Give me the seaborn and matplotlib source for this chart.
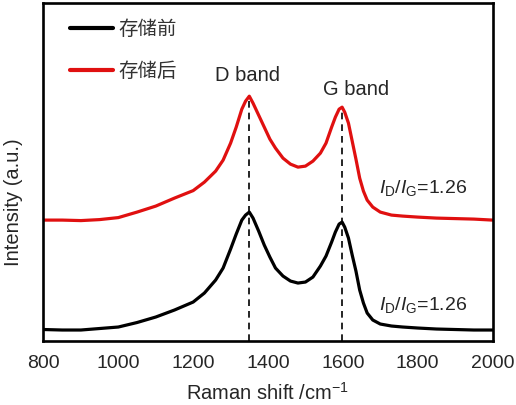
import numpy as np
import pandas as pd
import matplotlib
matplotlib.use("Agg")
import matplotlib.pyplot as plt
import seaborn as sns

# ---- data (arbitrary intensity units) ----
shift = [800, 850, 900, 950, 1000, 1050, 1100, 1150, 1200, 1230, 1260, 1280, 1300,
         1315, 1330, 1340, 1350, 1360, 1375, 1390, 1405, 1420, 1440, 1460, 1480,
         1500, 1520, 1540, 1555, 1570, 1580, 1590, 1598, 1605, 1615, 1625, 1635,
         1645, 1655, 1665, 1680, 1700, 1730, 1760, 1800, 1850, 1900, 1950, 2000]

before = [11.5, 11, 11, 12.5, 14, 18.5, 24, 31, 39, 48, 61, 73, 92,
          107, 121, 126, 129, 123, 110, 96, 84, 73, 65, 60, 58,
          59, 64, 75, 85, 99, 109, 117, 119, 114, 103, 86, 70,
          51, 38, 28, 21, 17, 15, 14, 13, 12, 11.5, 11, 11]

after = [121, 121, 120.5, 121.5, 123.5, 129, 135, 143, 150.5, 159, 170, 181, 198,
         214, 232, 240, 245, 238, 226, 214, 202, 193, 183, 177, 174,
         175, 180, 188, 198, 214, 224, 232, 234, 229, 218, 200, 182,
         163, 150, 141, 134, 129, 126, 125, 124, 123, 122.5, 122, 121]

labels = ['存储前', '存储后']
band_pos = [1350, 1597]
band_top = [245, 234]
band_names = ['D band', 'G band']
ratio_text = ['1.26', '1.26']

sns.set_theme(style='white')
plt.rcParams['font.family'] = ['Liberation Sans', 'Noto Sans CJK SC']
plt.rcParams['mathtext.fontset'] = 'custom'
plt.rcParams['mathtext.rm'] = 'Liberation Sans'
plt.rcParams['mathtext.it'] = 'Liberation Sans:italic'

df = pd.DataFrame({'shift': shift, 'before': before, 'after': after})

fig = plt.figure(figsize=(5.16, 4.05), dpi=100)
ax = fig.add_axes([0.0843, 0.158, 0.8702, 0.834])

sns.lineplot(data=df, x='shift', y='before', color='black', lw=2.3,
             label=labels[0], ax=ax)
sns.lineplot(data=df, x='shift', y='after', color='#e01010', lw=2.3,
             label=labels[1], ax=ax)

# dashed marker lines at peak positions
for pos, top in zip(band_pos, band_top):
    ax.plot([pos, pos], [0, top], color='black', ls=(0, (4, 3)), lw=1.2, zorder=1)

ax.text(1345, 266, band_names[0], fontsize=14.5, ha='center', va='center')
ax.text(1635, 252, band_names[1], fontsize=14.5, ha='center', va='center')

ratio_fmt = r'$\mathit{I}_{\mathrm{D}}/\mathit{I}_{\mathrm{G}}$='
ax.text(1696, 153, ratio_fmt + ratio_text[1], fontsize=14, va='center')
ax.text(1696, 36, ratio_fmt + ratio_text[0], fontsize=14, va='center')

ax.set_xlim(800, 2000)
ax.set_ylim(0, 338)
ax.set_xticks(np.arange(800, 2001, 200))
ax.set_yticks([])
ax.tick_params(axis='x', direction='in', length=5, width=1.5, labelsize=14, pad=10)
ax.set_xlabel(r'Raman shift /cm$^{-1}$', fontsize=14.5, labelpad=7)
ax.set_ylabel('Intensity (a.u.)', fontsize=14.5)
ax.yaxis.set_label_coords(-0.046, 0.41)

for sp in ax.spines.values():
    sp.set_linewidth(1.9)
    sp.set_color('black')

leg = ax.legend(loc='upper left', bbox_to_anchor=(0.02, 1.002), frameon=False,
                handlelength=2.2, labelspacing=1.2, fontsize=14,
                handletextpad=0.3)
for t in leg.get_texts():
    t.set_color('#333333')
for h in leg.get_lines():
    h.set_linewidth(3)

fig.savefig('out.png', dpi=100)
